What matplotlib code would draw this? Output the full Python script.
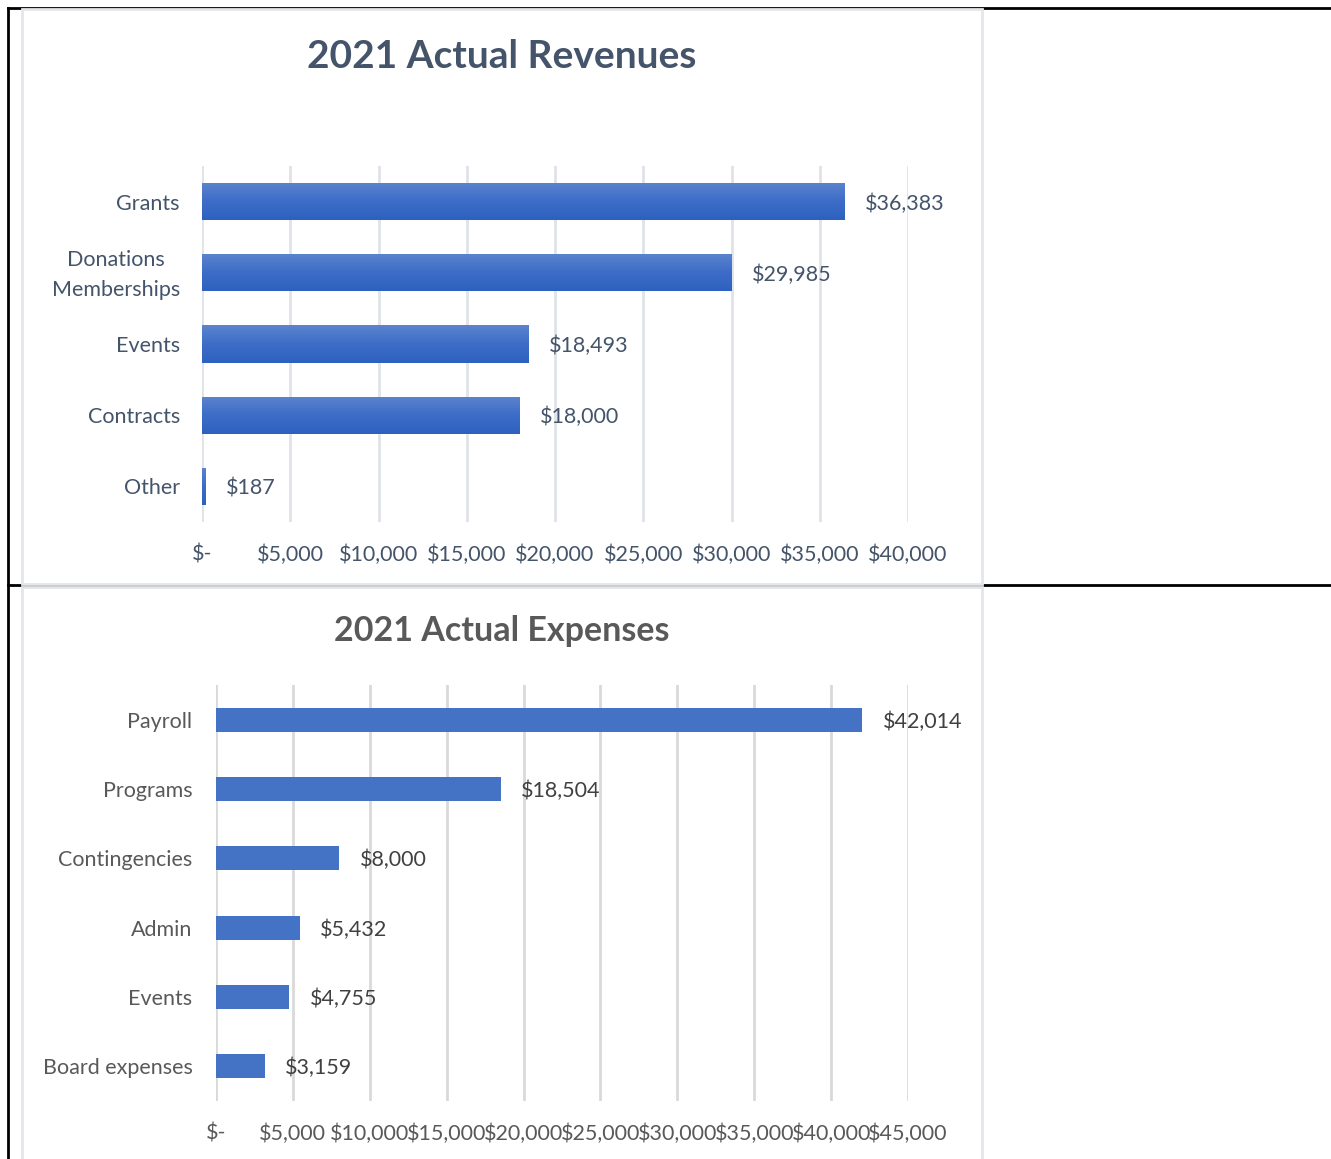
import numpy as np
import matplotlib.pyplot as plt
from matplotlib.patches import Rectangle
from matplotlib.lines import Line2D
from matplotlib.ticker import FuncFormatter
from matplotlib.colors import LinearSegmentedColormap
from matplotlib.transforms import ScaledTranslation

plt.rcParams['font.family'] = ['Lato', 'DejaVu Sans']

# revenue data
rev_cats = ["Grants", "Donations\nMemberships", "Events", "Contracts", "Other"]
rev_vals = [36383, 29985, 18493, 18000, 187]
rev_ticks = [0, 5000, 10000, 15000, 20000, 25000, 30000, 35000, 40000]

# expense data
exp_cats = ["Payroll", "Programs", "Contingencies", "Admin", "Events", "Board expenses"]
exp_vals = [42014, 18504, 8000, 5432, 4755, 3159]
exp_ticks = [0, 5000, 10000, 15000, 20000, 25000, 30000, 35000, 40000, 45000]

W, H = 1331, 1159
fig = plt.figure(figsize=(W / 100, H / 100), dpi=100)


def px_rect(x0, y0, x1, y1):
    # pixel box (top-left origin) -> figure fraction rect
    return [x0 / W, 1 - y1 / H, (x1 - x0) / W, (y1 - y0) / H]


def money(v, pos=None):
    if v == 0:
        return "$-"
    return "${:,.0f}".format(v)


# table lines
for (xa, ya, xb, yb) in [(8, 8, 1331, 8), (8, 8, 8, 1159), (8, 585, 1331, 585)]:
    fig.add_artist(Line2D([xa / W, xb / W], [1 - ya / H, 1 - yb / H],
                          color="black", lw=2, transform=fig.transFigure, zorder=-3))

# chart frames
for (x0, y0, x1, y1) in [(22, 9, 982, 584), (22, 587, 982, 1162)]:
    r = px_rect(x0, y0, x1, y1)
    fig.add_artist(Rectangle((r[0], r[1]), r[2], r[3], transform=fig.transFigure,
                             facecolor="white", edgecolor="#e3e6ea", lw=2, zorder=-2))

# ---- revenues ----
c1 = "#44546a"
ax1 = fig.add_axes(px_rect(202, 166, 908, 522))
y1 = np.arange(len(rev_cats))
bars = ax1.barh(y1, rev_vals, height=0.52, color="#3f6fc6", zorder=3)
grad = np.linspace(0, 1, 100).reshape(-1, 1)
cmap = LinearSegmentedColormap.from_list("g", ["#5c83cd", "#3d6dc8", "#2e61bf"])
for b in bars:
    x0, yb = b.get_x(), b.get_y()
    im = ax1.imshow(grad, extent=[x0, x0 + max(b.get_width(), 150), yb + b.get_height(), yb],
                    aspect="auto", cmap=cmap, zorder=4, interpolation="bilinear")
    im.set_clip_path(b)
for b, v in zip(bars, rev_vals):
    ax1.text(max(v, 150) + 1150, b.get_y() + b.get_height() / 2, money(v),
             va="center_baseline", ha="left", fontsize=15.5, color=c1)
ax1.set_xlim(0, 40000)
ax1.set_ylim(len(rev_cats) - 0.5, -0.5)
ax1.set_xticks(rev_ticks)
ax1.xaxis.set_major_formatter(FuncFormatter(money))
ax1.set_yticks(y1)
ax1.set_yticklabels(rev_cats)
ax1.grid(axis="x", color="#dfe2e7", lw=2, zorder=0)
for s in ax1.spines.values():
    s.set_visible(False)
ax1.tick_params(axis="both", length=0, labelsize=15.5, labelcolor=c1)
ax1.tick_params(axis="x", pad=16)
ax1.tick_params(axis="y", pad=16)
ax1.set_facecolor("none")
for t in ax1.get_yticklabels():
    if "\n" in t.get_text():
        t.set_multialignment("center")
        t.set_linespacing(1.65)
        t.set_transform(t.get_transform() + ScaledTranslation(0, 5 / 100, fig.dpi_scale_trans))
fig.text(502 / W, 1 - 56 / H, "2021 Actual Revenues", ha="center", va="center",
         fontsize=28, fontweight="bold", color=c1)

# ---- expenses ----
c2 = "#595959"
ax2 = fig.add_axes(px_rect(216, 685, 908, 1101))
y2 = np.arange(len(exp_cats))
bars2 = ax2.barh(y2, exp_vals, height=0.35, color="#4472c4", zorder=3)
for b, v in zip(bars2, exp_vals):
    ax2.text(v + 1350, b.get_y() + b.get_height() / 2, money(v),
             va="center_baseline", ha="left", fontsize=15.5, color="#404040")
ax2.set_xlim(0, 45000)
ax2.set_ylim(len(exp_cats) - 0.5, -0.5)
ax2.set_xticks(exp_ticks)
ax2.xaxis.set_major_formatter(FuncFormatter(money))
ax2.set_yticks(y2)
ax2.set_yticklabels(exp_cats)
ax2.grid(axis="x", color="#d9d9d9", lw=2, zorder=0)
for s in ax2.spines.values():
    s.set_visible(False)
ax2.tick_params(axis="both", length=0, labelsize=15.5, labelcolor=c2)
ax2.tick_params(axis="x", pad=16)
ax2.tick_params(axis="y", pad=17)
ax2.set_facecolor("none")
fig.text(502 / W, 1 - 631 / H, "2021 Actual Expenses", ha="center", va="center",
         fontsize=24.5, fontweight="bold", color=c2)

fig.savefig("out.png", dpi=100)
